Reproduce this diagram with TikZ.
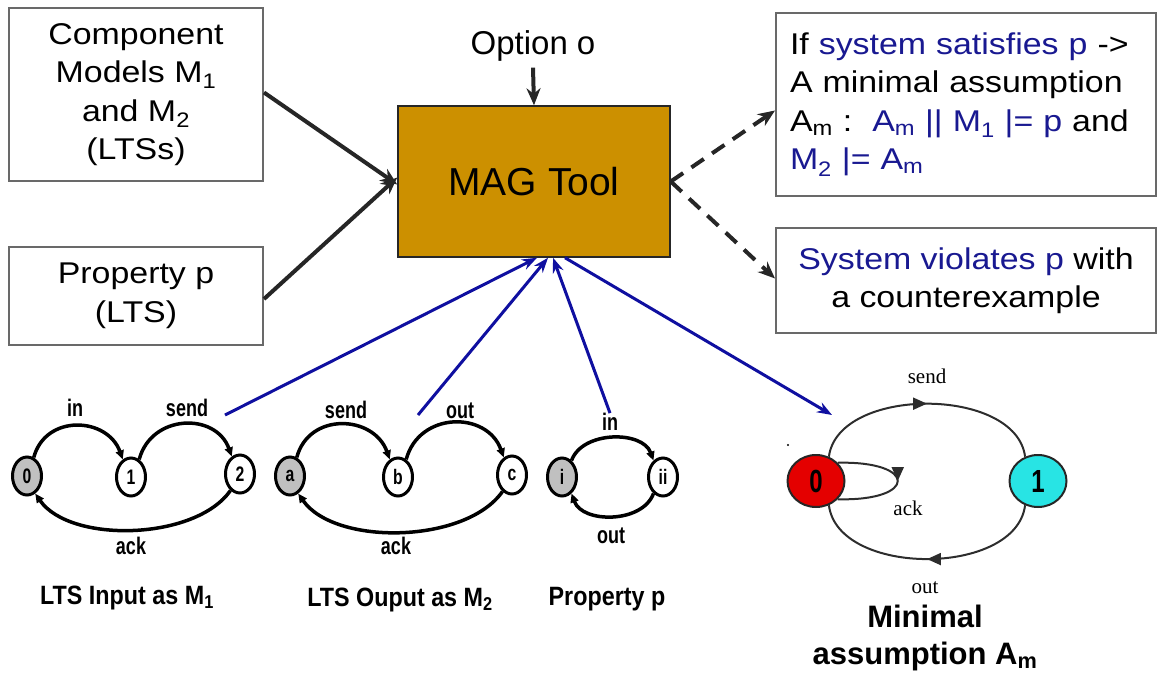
\documentclass[tikz,border=0pt]{standalone}
\usepackage{fontspec}
\setmainfont{Liberation Sans}
\newfontfamily\boxfont[FakeStretch=1.13]{Liberation Sans}
\newfontfamily\narrowsf[FakeStretch=0.75]{Liberation Sans}
\newfontfamily\captsf[FakeStretch=0.88]{Liberation Sans}
\newfontfamily\seriffont{Liberation Serif}
\usetikzlibrary{arrows.meta,decorations.markings,shapes.geometric}

\definecolor{magfill}{RGB}{204,144,0}
\definecolor{boxline}{RGB}{105,105,105}
\definecolor{navy}{RGB}{25,25,145}
\definecolor{linkblue}{RGB}{15,15,160}
\definecolor{stategray}{RGB}{192,192,192}
\definecolor{redstate}{RGB}{228,0,0}
\definecolor{cyanstate}{RGB}{40,228,228}
\definecolor{loopgray}{RGB}{45,45,45}

\newcommand\lo[1]{\textsubscript{#1}}
\newcommand\fs[2]{\fontsize{#1}{#2}\selectfont}

\begin{document}
\begin{tikzpicture}[x=1pt,y=-1pt,
  textbox/.style={draw=boxline, line width=2pt, fill=white, align=center,
    inner sep=0pt, font=\boxfont\fs{30}{38.5}},
  tool/.style={draw=black!85, line width=1.5pt, fill=magfill,
    minimum width=272, minimum height=151, font=\fs{39}{45}},
  feed/.style={line width=4pt, black!85, -{Stealth[length=17pt,width=14pt]}},
  result/.style={feed, dash pattern=on 15pt off 10pt},
  link/.style={line width=3pt, linkblue, -{Stealth[length=15pt,width=11pt]}},
  plainlink/.style={line width=3pt, linkblue},
  lts/.style={ellipse, draw, line width=3pt, minimum width=29pt, minimum height=38pt,
    inner sep=0pt, fill=white, font=\narrowsf\bfseries\fs{21}{21}},
  initial/.style={lts, fill=stategray},
  trans/.style={line width=3.5pt, -{Triangle[length=9pt,width=8pt]}},
  tlabel/.style={font=\narrowsf\bfseries\fs{24}{24}, inner sep=0pt},
  ltscap/.style={font=\captsf\bfseries\fs{26.5}{30}, inner sep=0pt},
  astate/.style={ellipse, draw=black!85, line width=2pt, minimum width=57pt,
    minimum height=52pt, inner sep=0pt, font=\narrowsf\bfseries\fs{32}{32}},
  amove/.style={line width=2pt, loopgray, postaction={decorate},
    decoration={markings, mark=at position 0.5 with
      {\arrow{Triangle[length=14pt,width=12pt]}}}},
  alabel/.style={font=\seriffont\fs{21}{21}, inner sep=0pt}
]
\useasboundingbox (0,0) rectangle (1157,675);

% ---------- inputs, tool and results ----------
\node[textbox, minimum width=254, minimum height=173] (models) at (136,94.5)
  {Component\\Models M\lo{1}\\and M\lo{2}\\(LTSs)};
\node[textbox, minimum width=254, minimum height=98] (prop) at (136,296)
  {Property p\\(LTS)};
\node[tool] (mag) at (534,181.5) {MAG Tool};
\node[font=\fs{33}{38}, inner sep=0pt] (opt) at (533,46) {Option o};

\node[textbox, minimum width=380, minimum height=183, text width=352, align=left]
  (sat) at (966,104.5)
  {If {\color{navy}system satisfies p} ->\\
   A minimal assumption\\
   A\lo{m} :\ \ {\color{navy}A\lo{m} || M\lo{1} |= p} and\\
   {\color{navy}M\lo{2} |= A\lo{m}}};
\node[textbox, minimum width=380, minimum height=105] (viol) at (966,280.5)
  {{\color{navy}System violates p} with\\a counterexample};

\draw[feed] (opt.south) ++(0,6) -- (mag.north);
\draw[feed] ([yshift=2]models.east) -- ([yshift=-3]mag.west);
\draw[feed] ([yshift=-3]prop.east) -- ([yshift=4]mag.west);
\draw[result] (mag.east) -- ([yshift=-6]sat.west);
\draw[result] (mag.east) -- ([yshift=2]viol.west);

% ---------- LTS Input as M1 ----------
\node[initial] (i0) at (27,476) {0};
\node[lts] (i1) at (131,477) {1};
\node[lts] (i2) at (240,474) {2};
\draw[trans] (i0.70) to[out=75,in=110,looseness=1.3] (i1.115);
\draw[trans] (i1.65) to[out=75,in=110,looseness=1.3] (i2.115);
\draw[trans] (i2.-120) to[out=-125,in=-55,looseness=0.8] (i0.-65);
\node[tlabel] (inA) at (75,408) {in};
\node[tlabel] (sendA) at (187,408) {send};
\node[tlabel] (ackA) at (131,546) {ack};
\node[ltscap] (capA) at (127,598) {LTS Input as M\lo{1}};

% ---------- LTS Output as M2 ----------
\node[initial] (o0) at (290,476) {a};
\node[lts] (o1) at (398,477) {b};
\node[lts] (o2) at (512,475) {c};
\draw[trans] (o0.70) to[out=75,in=110,looseness=1.3] (o1.115);
\draw[trans] (o1.65) to[out=75,in=110,looseness=1.3] (o2.115);
\draw[trans] (o2.-120) to[out=-125,in=-55,looseness=0.8] (o0.-65);
\node[tlabel] (sendB) at (346,410) {send};
\node[tlabel] (outB) at (460,411) {out};
\node[tlabel] (ackB) at (396,546) {ack};
\node[ltscap] (capB) at (400,600) {LTS Ouput as M\lo{2}};

% ---------- Property p ----------
\node[initial] (p0) at (562,477) {i};
\node[lts] (p1) at (663,477) {ii};
\draw[trans] (p0.60) to[out=70,in=110] (p1.120);
\draw[trans] (p1.-120) to[out=-110,in=-70] (p0.-60);
\node[tlabel] (inP) at (610,422) {in};
\node[tlabel] (outP) at (611,536) {out};
\node[ltscap] (capP) at (607,599) {Property p};

% ---------- Minimal assumption Am ----------
\node[astate, fill=redstate] (a0) at (816,481) {0};
\node[astate, fill=cyanstate] (a1) at (1038,481) {1};
\draw[amove] (a0.62) .. controls (838,386) and (1016,386) .. (a1.118);
\draw[amove] (a1.-118) .. controls (1016,577) and (838,577) .. (a0.-62);
\draw[amove] (a0.40) .. controls +(80,-2) and +(80,2) .. (a0.-40);
\node[alabel] (sendM) at (927,376) {send};
\node[alabel] (ackM) at (908,508) {ack};
\node[alabel] (outM) at (925,588) {out};
\fill (788,445) circle (1.2);
\node[font=\bfseries\fs{31}{37}, align=center, inner sep=0pt] (capM) at (925,638)
  {Minimal\\assumption A\lo{m}};

% ---------- links between the models and the tool ----------
\coordinate (fromA) at (225,415);
\coordinate (fromB) at (418,415);
\coordinate (toM) at (832,415);
\draw[link] (fromA) -- ([xshift=3]mag.south);
\draw[link] (fromB) -- ([xshift=14]mag.south);
\draw[link] (inP.north) -- ([xshift=19]mag.south);
\draw[link] ([xshift=31]mag.south) -- (toM);
\end{tikzpicture}
\end{document}
